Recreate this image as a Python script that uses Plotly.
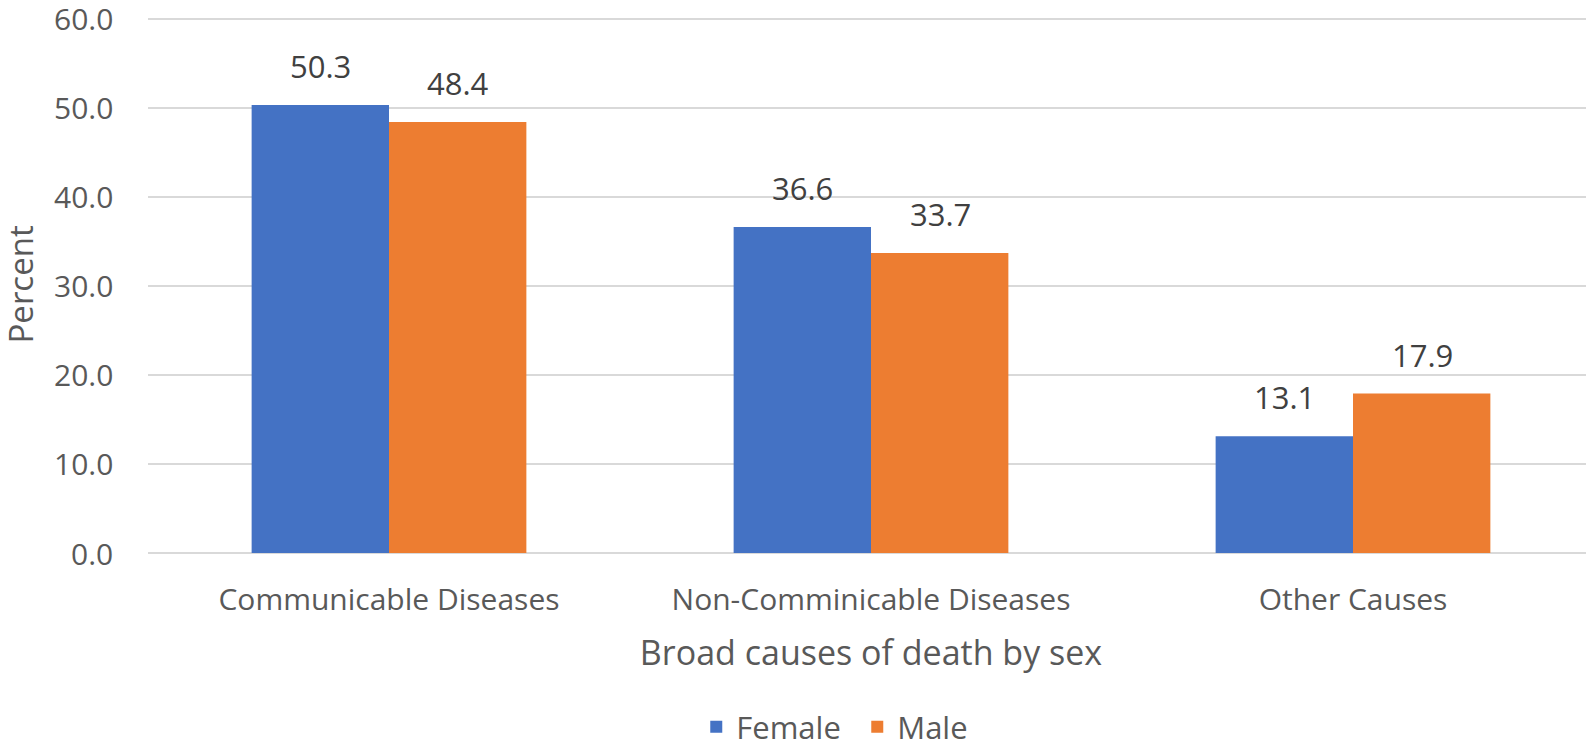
import plotly.graph_objects as go

categories = ["Communicable Diseases", "Non-Comminicable Diseases", "Other Causes"]
female = [50.3, 36.6, 13.1]
male = [48.4, 33.7, 17.9]
y_ticks = [0, 10, 20, 30, 40, 50, 60]

font = "Open Sans"

fig = go.Figure()
fig.add_trace(go.Bar(x=categories, y=female, name="Female", marker_color="#4472C4",
                     marker_line_width=0))
fig.add_trace(go.Bar(x=categories, y=male, name="Male", marker_color="#ED7D31",
                     marker_line_width=0))

# data labels above the bars
for vals, shift in [(female, -69), (male, 69)]:
    for c, v in zip(categories, vals):
        fig.add_annotation(x=c, y=v, text=f"{v:.1f}", showarrow=False,
                           xshift=shift, yshift=16, yanchor="bottom",
                           font=dict(family=font, size=31, color="#404040"))

# y tick labels as annotations so the top one is not hidden near the edge
for t in y_ticks:
    fig.add_annotation(x=0, xref="paper", y=t, yref="y", text=f"{t:.1f}",
                       showarrow=False, xanchor="right", xshift=-33,
                       font=dict(family=font, size=30, color="#595959"))

# y axis title
fig.add_annotation(x=0, xref="paper", y=0.5, yref="paper", text="Percent",
                   showarrow=False, textangle=-90, xanchor="center", yanchor="middle",
                   xshift=-128, font=dict(family=font, size=33, color="#595959"))

# page body adds an 8px offset, so margins are pulled in by 8
# range a bit above 60 so the top gridline is not clipped at the edge
fig.update_layout(
    width=1594, height=747,
    barmode="group", bargap=0.43, bargroupgap=0,
    plot_bgcolor="white", paper_bgcolor="white",
    font=dict(family=font, color="#595959"),
    margin=dict(l=140, r=8, t=8, b=202, autoexpand=False),
    legend=dict(orientation="h", x=0.4905, xanchor="center", y=-0.324, yanchor="middle",
                font=dict(size=31, color="#595959"), itemwidth=30, entrywidth=116,
                traceorder="normal"),
    xaxis=dict(
        title=dict(text="Broad causes of death by sex", font=dict(size=34), standoff=23),
        tickfont=dict(size=30), ticks="outside", ticklen=20, tickcolor="white",
        showline=False,
    ),
    yaxis=dict(
        range=[0, 60.3], tickvals=y_ticks, showticklabels=False,
        showgrid=True, gridcolor="#D9D9D9", gridwidth=2,
        zeroline=True, zerolinecolor="#D9D9D9", zerolinewidth=2,
        ticks="",
    ),
)

fig.write_html("out.html")
